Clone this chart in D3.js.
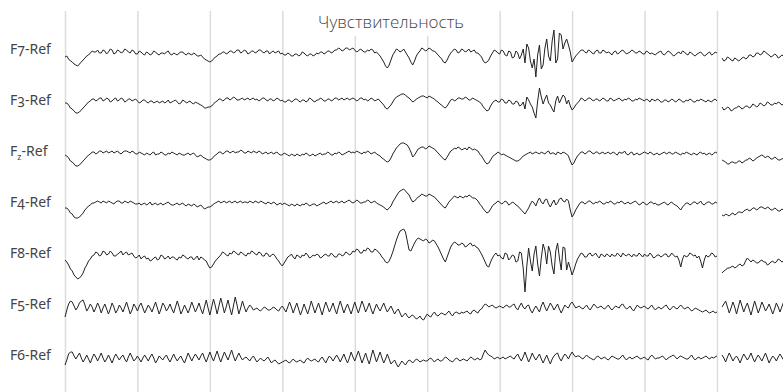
<!DOCTYPE html>
<html>
<head>
<meta charset="utf-8">
<script src="https://cdn.jsdelivr.net/npm/d3@7"></script>
<style>
  body { margin: 0; background: #fff; }
  .grid line { stroke: #dcdcdc; stroke-width: 1.5; }
  .grid .domain { display: none; }
  .trace { fill: none; stroke: #222; stroke-width: 1; stroke-linejoin: round; }
  .lbl { font-family: 'Noto Sans', sans-serif; font-size: 14px; fill: #444; font-variant-numeric: oldstyle-nums; }
  .title { font-family: 'Open Sans', sans-serif; font-size: 17px; font-weight: 300; fill: #444; }
</style>
</head>
<body>
<div id="chart"></div>
<script>
// channels, top to bottom
const channels = ['F7', 'F3', 'Fz', 'F4', 'F8', 'F5', 'F6'];
const sampleRate = 40;      // samples per second
const tailStart = 9.07;     // second page of the record starts here (s)
const gridSeconds = [0, 1, 2, 3, 4, 5, 6, 7, 8, 9];
const dcOffsets = [-1, 2, 0, 1, 0, -1, 0];

// main page, 0..9 s
const f7 = [-4,-3, -6,-8, -9,-11, -12,-13, -11,-9, -7,-5, -3,-2, 0,2, 1,1, 3,0,
  0,3, 2,-1, 1,4, 3,-1, 0,3, 2,0, 1,4, 3,1, 0,3, 2,-1,
  -1,2, 1,-1, -2,1, 0,-2, -1,2, 1,-1, -2,0, 0,-1, 1,2, -1,-2,
  0,-1, -2,0, 1,1, -1,-2, 0,-1, -2,0, -1,-3, -3,-2, -4,-6, -7,-8,
  -9,-8, -6,-4, -3,-1, -1,1, 1,-1, 0,2, 2,0, 1,3, 3,0, 1,3,
  2,-1, 0,2, 2,0, 1,3, 3,1, 0,2, 2,-1, 1,2, 0,1, 2,-1,
  0,-2, -2,0, -1,-3, -3,-1, -1,-3, -2,1, 0,-2, -3,-1, -1,-3, -2,0,
  -1,1, 1,-1, 0,2, 2,0, 1,3, 3,5, 4,2, 3,5, 5,3, 4,5,
  3,1, 2,4, 3,1, 1,3, 2,4, 3,0, 1,-1, -3,-6, -9,-13, -15,-12,
  -7,-2, 1,4, 3,1, 2,4, 1,-2, -5,-9, -12,-8, -3,0, 2,5, 4,2,
  3,5, 4,2, 2,0, -2,-4, -6,-9, -10,-7, -3,0, 2,4, 3,0, 1,4,
  3,1, 2,4, 1,2, 3,0, 0,-2, -4,-8, -10,-9, -7,-3, 0,3, 2,0,
  -1,3, 2,-2, -3,2, 1,-5, -4,2, 0,-6, -2,4, -10,9, 5,-8, -15,-6,
  -24,-2, 8,-16, -12,5, 14,-3, -8,12, 23,-10, -6,20, 18,4, 10,14, 8,1,
  -9,-6, -3,-1, 1,3, 3,1, 0,3, 2,0, -1,2, 3,0, 0,3, 2,0,
  1,0, -2,1, 2,-1, 0,2, 3,1, -1,0, 1,3, 2,0, 0,2, 1,-1,
  -1,2, 1,-1, 0,-1, -2,0, 1,2, -1,-2, 0,2, 1,-1, -3,-2, 0,1,
  -1,2, 1,-1, -2,1, 0,-2, -3,-1, 0,1, -1,-3, -2,0, 1,-2, -1,1, 0];
const f3 = [-2,-2, -4,-7, -8,-10, -12,-12, -11,-9, -7,-5, -3,-1, 0,2, 2,0, 1,3,
  3,0, 1,3, 2,-1, 0,2, 3,0, 1,3, 2,-1, 0,2, 2,0, 1,2,
  0,-2, -1,1, 1,-1, -2,0, 0,-2, -1,0, -2,-1, 0,-2, -1,1, -2,-1,
  0,1, -1,-3, -2,1, 0,-2, -1,0, -2,-3, -1,-2, -3,-4, -5,-7, -7,-6,
  -6,-5, -3,-1, 0,2, 2,0, 1,3, 3,1, 2,4, 3,1, 1,2, 3,1,
  2,3, 1,2, 3,1, 2,0, 1,3, 3,1, 0,2, 2,0, 1,3, 2,0,
  1,-1, -1,1, 1,-1, 0,2, 2,0, -1,1, 1,-1, 0,3, 2,0, -1,1,
  1,3, 2,0, 0,2, 2,0, 1,3, 3,1, 2,3, 1,2, 3,1, 2,3,
  2,0, 1,3, 3,1, 2,0, 1,3, 2,0, 1,2, 0,-2, -4,-7, -8,-6,
  -4,-1, 2,4, 5,6, 7,7, 6,4, 3,1, -1,0, 2,3, 4,5, 5,4,
  3,5, 4,3, 2,0, -1,-3, -4,-6, -7,-5, -2,1, 2,0, 1,3, 3,2,
  2,4, 3,1, 1,3, 2,1, 0,-1, -3,-6, -8,-10, -9,-5, -2,0, 1,-1,
  -1,2, 1,-2, -2,1, 0,-3, -3,0, -1,-5, -4,-1, -8,4, 1,-3, -6,-12,
  -17,0, 13,4, -3,2, 6,-2, -4,-8, -11,0, 5,-2, 2,6, 4,-3, 1,-5,
  -9,-7, -4,-2, 0,3, 2,0, 1,3, 3,1, 0,2, 2,0, 1,3, 2,0,
  0,3, 2,0, 1,2, 3,1, 0,2, 1,3, 2,0, 0,2, 1,3, 2,1,
  0,2, 1,-1, 2,1, 0,2, 1,-1, -1,1, 1,-1, 0,2, 1,-1, 0,2,
  1,-1, -1,1, 0,2, 1,-1, -1,1, 0,2, 1,0, -1,1, 0,-1, 1,2, 0];
const fz = [-1,-2, -4,-7, -8,-10, -12,-12, -11,-9, -7,-5, -3,-1, 0,2, 2,0, 1,3,
  3,1, 2,3, 1,2, 3,1, 2,3, 1,0, 2,3, 3,2, 1,3, 2,0,
  0,2, 1,0, -1,1, 0,-1, 1,2, -1,0, 0,2, 1,-1, -1,1, 0,2,
  1,0, -1,1, 0,-1, -1,0, 1,-1, 0,1, -1,-3, -2,-1, -3,-4, -5,-6,
  -6,-5, -3,-1, 0,2, 2,0, 1,3, 3,1, 2,3, 1,2, 2,4, 3,1,
  1,3, 2,1, 3,2, 1,3, 2,0, 1,2, 0,1, 2,0, 1,2, 0,-1,
  -1,1, 0,-1, -2,0, -1,-2, 0,-1, -2,0, -1,1, 0,-2, -1,0, -2,-1,
  0,1, -1,0, 0,2, 1,-1, -1,1, 0,2, 1,-1, 0,1, 2,3, 1,2,
  1,3, 2,1, 0,2, 1,3, 2,0, 1,2, 0,-1, -2,-4, -5,-7, -8,-7,
  -4,0, 3,6, 8,10, 11,11, 10,9, 6,2, -3,-1, 2,5, 6,7, 7,5,
  6,8, 7,6, 5,3, 1,-1, -3,-5, -6,-3, 0,3, 4,6, 5,7, 6,4,
  5,6, 4,7, 6,4, 5,4, 3,0, -2,-5, -8,-10, -9,-6, -3,-1, 0,2,
  1,-1, 0,-1, -2,-3, -4,-5, -6,-7, -7,-6, -4,-2, -1,0, 1,2, 0,1,
  2,1, 0,2, 1,0, 2,3, 0,1, 1,-1, 2,1, 0,2, 1,0, -2,-7,
  -11,-9, -5,-2, 0,2, 2,0, 1,3, 3,1, 0,2, 2,0, 1,2, 0,1,
  2,0, 1,2, 0,-1, 2,1, 1,3, 0,-1, 1,2, -1,0, 1,-1, 0,1,
  2,1, 0,2, 1,-1, 0,1, -1,0, 1,2, 0,1, 2,0, 0,2, 1,0,
  -1,1, 0,2, 1,0, -1,1, 0,-1, 1,2, 0,1, -1,0, 1,-1, 0,2, 1];
const f4 = [-4,-4, -6,-9, -10,-13, -14,-14, -13,-11, -9,-6, -4,-2, -1,1, 1,2, 3,2,
  1,3, 2,1, 3,2, 1,0, 2,3, 3,1, 1,3, 2,1, 3,2, 1,0,
  0,1, -1,0, 1,-1, 0,2, -1,0, 1,-1, 0,1, -1,0, 1,2, 0,-1,
  -1,0, 1,-1, 0,1, -1,-2, 0,-1, -2,0, -1,-3, -2,-1, -3,-5, -4,-3,
  -3,-2, 0,1, 2,3, 1,2, 3,1, 2,3, 1,2, 3,1, 2,3, 1,2,
  2,1, 3,2, 1,3, 2,1, 3,2, 1,0, 2,1, 0,2, 1,-1, 0,1,
  -1,1, 0,-1, -2,0, -1,-2, 0,-1, -2,0, -1,1, 0,-2, -1,0, 0,-2,
  -1,0, 1,2, 0,1, 2,3, 1,2, 3,1, 2,3, 1,2, 3,4, 2,1,
  2,4, 3,1, 1,2, 2,4, 3,1, 2,3, 1,0, -1,-2, -3,-5, -6,-4,
  -2,2, 5,8, 11,13, 14,15, 13,11, 9,5, 2,3, 5,7, 8,10, 9,8,
  8,10, 9,8, 7,5, 3,1, -1,-3, -4,-1, 2,4, 6,8, 7,6, 8,7,
  6,8, 7,9, 8,6, 6,5, 3,0, -2,-5, -7,-9, -8,-5, -2,0, 1,3,
  2,0, 1,3, 2,-1, 0,2, 1,-1, -2,-4, -6,-8, -10,-7, -4,0, 3,1,
  -2,3, 6,2, 0,4, 5,0, -3,1, 4,-1, 1,5, 6,3, 2,5, 3,-6,
  -13,-10, -6,-3, 0,2, 2,0, 1,3, 3,1, 0,2, 1,3, 2,0, 0,2,
  1,3, 2,0, 0,2, 1,3, 2,0, 1,2, 0,1, 2,3, 1,-1, 0,2,
  1,-1, 0,2, 2,0, 1,-1, -1,0, 1,2, 0,-1, 1,2, 0,-1, -2,-4,
  -6,-3, -1,1, 1,-1, 0,2, 2,0, 1,3, 0,-1, 1,2, 2,0, 0,2, 1];
const f8 = [-4,-6, -9,-13, -15,-19, -21,-23, -22,-20, -17,-12, -9,-5, -3,0, 1,4, 3,0,
  1,5, 4,1, 2,5, 3,0, 0,2, 3,5, 1,3, 4,1, 2,3, 0,-2,
  -1,1, -3,-1, 0,-3, -2,-5, -4,-2, -1,-4, -3,1, 0,-3, -2,0, -3,-1,
  -1,-3, -4,-1, -2,1, 0,-2, -3,-1, -1,-4, -2,0, -4,-1, -2,-4, -5,-9,
  -12,-11, -8,-5, -3,-1, 1,4, 3,1, 0,3, 2,5, 4,2, 1,4, 3,1,
  0,3, 2,5, 4,2, 1,4, 3,0, 0,3, 2,-1, 1,2, 0,-3, -5,-8,
  -10,-7, -4,-1, 0,2, -1,-3, 1,0, -2,1, 0,3, 1,-2, -1,1, 0,2,
  1,-2, -1,1, 2,0, 0,3, 1,-1, -1,2, 2,0, 1,4, 3,1, 2,5,
  4,7, 6,3, 3,6, 5,8, 7,4, 4,7, 6,4, 2,-1, -3,-6, -7,-5,
  -1,4, 10,16, 21,25, 26,27, 24,15, 6,5, 9,13, 16,18, 17,16, 15,17,
  16,13, 14,16, 15,12, 9,5, 1,-3, -6,-1, 4,9, 12,14, 13,11, 11,13,
  12,9, 10,12, 13,10, 11,9, 8,5, 2,-2, -6,-10, -11,-6, -2,1, 3,0,
  1,-2, -3,3, 2,-4, -2,1, 0,-6, -5,4, 3,-12, -36,-10, 8,-5, -15,2,
  10,-8, -20,-2, 12,6, -8,10, 4,-10, -18,5, 13,-2, -14,9, 8,-14, -6,-12,
  -19,-14, -8,-3, 0,3, 2,-1, -1,2, 3,0, 1,3, 0,-2, 2,1, -1,2,
  1,-1, 2,0, 0,3, 1,-1, 3,1, 0,2, 1,-1, 2,0, 0,3, 1,-1,
  2,0, 0,3, 1,-2, -1,1, 1,-1, 0,2, 2,-1, 0,3, 1,-1, 0,-4,
  -11,-3, 1,-1, 0,3, 2,0, 1,-2, 0,-5, -12,-4, 1,-1, 0,3, 2,-1, 0];
const f5 = [-9,-2, 4,7, 6,2, -2,1, 5,7, 8,3, -3,0, 4,1, -4,0, 5,1,
  -5,0, 4,-1, -6,-1, 5,1, -5,-2, 3,0, -4,1, 6,0, -6,-2, 4,1,
  -3,2, 5,0, -5,-1, 3,0, -4,1, 6,0, -6,-1, 5,2, -3,0, 4,-1,
  -5,1, 7,1, -6,-2, 3,-1, -5,0, 6,1, -4,0, 5,-1, -6,1, 8,0,
  -7,1, 9,2, -6,2, 10,3, -5,1, 8,0, -7,2, 11,3, -6,0, 7,1,
  -4,0, 3,1, -2,-1, 0,-2, -3,-1, 1,0, -2,-2, -1,1, 0,-2, -3,0,
  2,-1, -4,1, 6,1, -5,0, 5,-1, -7,-2, 4,-1, -6,0, 7,1, -5,0,
  5,-1, -7,0, 6,1, -4,0, 5,-1, -6,1, 7,1, -5,0, 4,-1, -6,0,
  6,0, -5,1, 7,2, -4,0, 5,-1, -6,-1, 4,0, -3,1, 5,0, -4,-1,
  2,-2, -6,-3, -1,-5, -9,-7, -5,-8, -10,-8, -7,-9, -11,-10, -8,-11, -12,-9,
  -6,-8, -9,-6, -4,-7, -8,-6, -5,-6, -7,-5, -3,-6, -8,-5, -4,-5, -6,-4,
  -5,-4, -3,-5, -6,-3, -2,-4, -5,-2, -1,2, 4,3, 1,2, 3,1, 0,1,
  2,1, 0,2, 3,1, 1,3, 4,0, -2,2, 5,1, -1,2, 3,-2, -5,-1,
  2,-1, -4,2, 6,1, -3,1, 5,2, -2,1, 4,-1, -5,-1, 3,1, 0,4,
  6,3, 0,1, 2,0, -1,1, 3,0, -2,1, 4,2, 0,1, 2,0, -1,1,
  3,0, -2,0, 2,1, 0,3, 4,1, -1,0, 2,-1, -3,0, 3,1, 0,1,
  2,0, -1,1, 3,0, -2,0, 1,-1, 0,2, 3,0, -2,0, 2,0, -1,1,
  3,1, -1,0, 1,-1, -3,-2, 0,-1, -2,-3, -4,-3, -2,-4, -5,-4, -3,-5, -4];
const f6 = [-7,-2, 4,6, 6,2, -1,2, 5,0, -4,-1, 3,-1, -5,0, 4,1, -3,1,
  5,0, -4,-1, 3,-1, -5,0, 4,1, -2,1, 3,-1, -4,1, 5,1, -3,-1,
  2,-1, -4,0, 3,0, -3,1, 4,0, -5,-2, 2,0, -2,1, 3,-1, -4,0,
  4,0, -3,0, 2,-2, -5,0, 5,1, -3,1, 4,1, -2,2, 5,0, -4,1,
  6,1, -3,2, 7,1, -4,1, 6,2, -2,3, 8,2, -3,1, 5,1, -2,0,
  1,-1, -3,0, 2,-1, -4,-2, 0,-2, -3,-1, 1,-2, -5,-3, -2,-4, -6,-5,
  -4,-3, -2,-4, -5,-3, -1,-3, -4,-3, -2,-4, -5,-2, 0,-2, -3,-2, -1,-3,
  -4,-1, 1,-2, -5,-1, 2,0, -3,0, 3,0, -4,0, 4,-1, -5,0, 6,1,
  -3,2, 7,1, -5,0, 5,-1, -6,1, 8,2, -4,1, 6,0, -5,-1, 4,-1,
  -6,-4, -2,-6, -9,-6, -3,-5, -7,-4, -2,-3, -5,-3, -1,-2, -4,-3, -2,-3,
  -3,-1, 0,-2, -4,-2, -1,-3, -3,-1, 1,0, -2,-3, -4,-2, 0,-1, -3,-2,
  -1,-2, -3,-1, 1,0, -2,-1, 0,-2, -1,4, 8,5, 3,2, 1,-1, 0,1,
  -1,0, 1,-1, 0,1, 2,0, -1,2, 4,0, -3,1, 6,1, -4,0, 5,1,
  -2,1, 4,-1, -5,-1, 3,-2, -6,-1, 2,4, 5,0, -3,1, 4,2, -1,3,
  6,3, 1,2, 2,0, -1,1, 3,1, 0,-1, -2,0, 2,1, -1,0, 1,-1,
  -2,0, 2,1, 0,-1, -1,1, 3,0, -2,0, 1,-1, 0,1, 2,0, -1,0,
  1,-1, -2,1, 3,1, -1,0, 0,1, 2,0, -2,0, 1,2, 3,1, -1,1,
  2,1, 0,-1, -1,1, 3,0, -2,0, 1,-1, 0,1, 2,0, -1,1, 0,1, 2];

// second page (right of the gap)
const f7Tail = [-5,-8, -7,-4, -5,-7, -8,-5, -6,-8, -7,-5, -4,-6, -5,-2, -2,-4, -3,0, 0,-2, -1,2, 1,-1, -2,-4, -3,-1, -2,-5, -4,-2, -3];
const f3Tail = [-6,-9, -8,-6, -7,-10, -9,-7, -7,-5, -6,-8, -7,-5, -5,-7, -6,-3, -4,-6, -5,-2, -3,-5, -4,-1, -2,-4, -4,-2, -3,-1, -2,-4, -3];
const fzTail = [-6,-7, -8,-10, -10,-8, -8,-9, -9,-7, -7,-9, -8,-6, -6,-4, -5,-7, -6,-4, -3,-2, -1,-2, -4,-2, -3,-5, -5,-3, -4,-6, -6,-5, -4];
const f4Tail = [-11,-12, -10,-11, -12,-10, -9,-11, -10,-8, -8,-9, -7,-6, -5,-7, -6,-4, -4,-6, -5,-3, -3,-4, -5,-3, -4,-6, -6,-4, -5,-7, -7,-5, -6];
const f8Tail = [-17,-15, -14,-12, -12,-11, -10,-12, -11,-9, -8,-10, -9,-5, -2,-4, -6,-4, -5,-7, -7,-5, -4,-6, -6,-9, -8,-6, -5,-7, -6,-3, -4,-6, -5];
const f5Tail = [1,4, 7,1, -5,0, 6,1, -6,1, 8,2, -4,1, 5,-1, -7,0, 7,1, -5,0, 6,2, -3,0, 4,-1, -6,-1, 5,1, -4,1, 6];
const f6Tail = [3,0, -4,1, 5,1, -3,0, 2,-1, -5,0, 4,1, -2,1, 5,0, -4,0, 3,0, -3,1, 5,0, -5,-1, 2,0, -3,1, 4,1, -2];

const mainSeries = [f7, f3, fz, f4, f8, f5, f6];
const tailSeries = [f7Tail, f3Tail, fzTail, f4Tail, f8Tail, f5Tail, f6Tail];

const width = 783, height = 392;

const svg = d3.select('#chart').append('svg')
  .attr('width', width)
  .attr('height', height);

const x = d3.scaleLinear().domain([0, 10]).range([65, 65 + 10 * 72.44]);

const rows = d3.scalePoint().domain(channels).range([52, 358]);

// vertical second lines
svg.append('g')
  .attr('class', 'grid')
  .attr('transform', 'translate(0,' + height + ')')
  .call(d3.axisBottom(x).tickValues(gridSeconds).tickSize(-(height - 11)).tickFormat(''));

// title sits on a white patch over the grid
svg.append('rect')
  .attr('x', 312).attr('y', 8)
  .attr('width', 158).attr('height', 28)
  .attr('fill', '#fff');
svg.append('text')
  .attr('class', 'title')
  .attr('x', 391).attr('y', 28)
  .attr('text-anchor', 'middle')
  .text('Чувствительность');

const line = d3.line()
  .x(d => x(d.t))
  .y(d => d.y);

channels.forEach((ch, k) => {
  const base = rows(ch);
  const y = d3.scaleLinear().domain([-30, 30]).range([base + 30, base - 30]);
  const dc = dcOffsets[k];

  const main = mainSeries[k].map((v, i) => ({ t: i / sampleRate, y: y(v + dc) }));
  const tail = tailSeries[k].map((v, i) => ({ t: tailStart + i / sampleRate, y: y(v + dc) }));

  svg.append('path').attr('class', 'trace').attr('d', line(main));
  svg.append('path').attr('class', 'trace').attr('d', line(tail));

  const lbl = svg.append('text')
    .attr('class', 'lbl')
    .attr('x', 10)
    .attr('y', base - 2.5)
    .attr('dy', '0.35em');
  if (ch === 'Fz') {
    lbl.append('tspan').text('F');
    lbl.append('tspan').attr('font-size', '9px').attr('dy', '0.45em').text('z');
    lbl.append('tspan').attr('dy', '-0.3em').text('-Ref');
  } else {
    lbl.text(ch + '-Ref');
  }
});
</script>
</body>
</html>
